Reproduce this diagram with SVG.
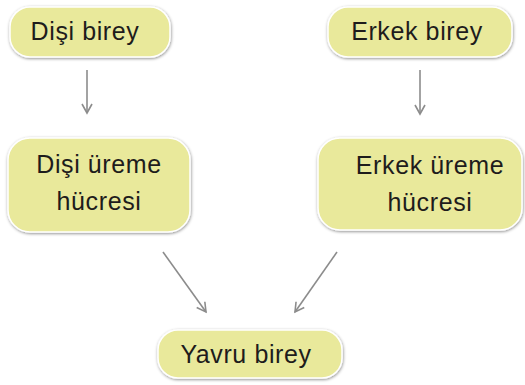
<svg xmlns="http://www.w3.org/2000/svg" width="525" height="385" viewBox="0 0 525 385">
<defs>
<filter id="sh" x="-10%" y="-20%" width="120%" height="140%">
<feDropShadow dx="0.5" dy="1" stdDeviation="1.5" flood-color="#000" flood-opacity="0.45"/>
</filter>
<marker id="ah" viewBox="0 0 12 12" refX="10" refY="6" markerWidth="12" markerHeight="12" markerUnits="userSpaceOnUse" orient="auto">
<path d="M1,1 L10,6 L1,11" fill="none" stroke="#8c8c8c" stroke-width="1.6"/>
</marker>
</defs>
<style>
.box{fill:#e9e99b;stroke:#ffffff;stroke-width:1.5;filter:url(#sh)}
.t{font-family:"Liberation Sans",Arial,sans-serif;font-size:25px;letter-spacing:0.6px;fill:#1e1c1c;text-anchor:middle}
.c{stroke:#8c8c8c;stroke-width:1.6;fill:none;marker-end:url(#ah)}
</style>
<g id="connectors">
<line class="c" x1="87" y1="70" x2="87" y2="113"/>
<line class="c" x1="420" y1="70" x2="420" y2="114"/>
<line class="c" x1="163" y1="252" x2="206" y2="312"/>
<line class="c" x1="337" y1="252" x2="295" y2="312"/>
</g>
<g id="disi-birey">
<rect class="box" x="10" y="7" width="160" height="50" rx="20"/>
<text class="t" x="85" y="40">Dişi birey</text>
</g>
<g id="erkek-birey">
<rect class="box" x="328" y="7" width="184" height="50" rx="20"/>
<text class="t" x="417" y="40">Erkek birey</text>
</g>
<g id="disi-ureme">
<rect class="box" x="8" y="138" width="182" height="94" rx="22"/>
<text class="t" x="99" y="173">Dişi üreme</text>
<text class="t" x="99" y="210">hücresi</text>
</g>
<g id="erkek-ureme">
<rect class="box" x="318" y="138" width="204" height="92" rx="22"/>
<text class="t" x="430" y="174">Erkek üreme</text>
<text class="t" x="430" y="211">hücresi</text>
</g>
<g id="yavru-birey">
<rect class="box" x="158" y="330" width="184" height="48" rx="20"/>
<text class="t" x="246" y="363">Yavru birey</text>
</g>
</svg>
